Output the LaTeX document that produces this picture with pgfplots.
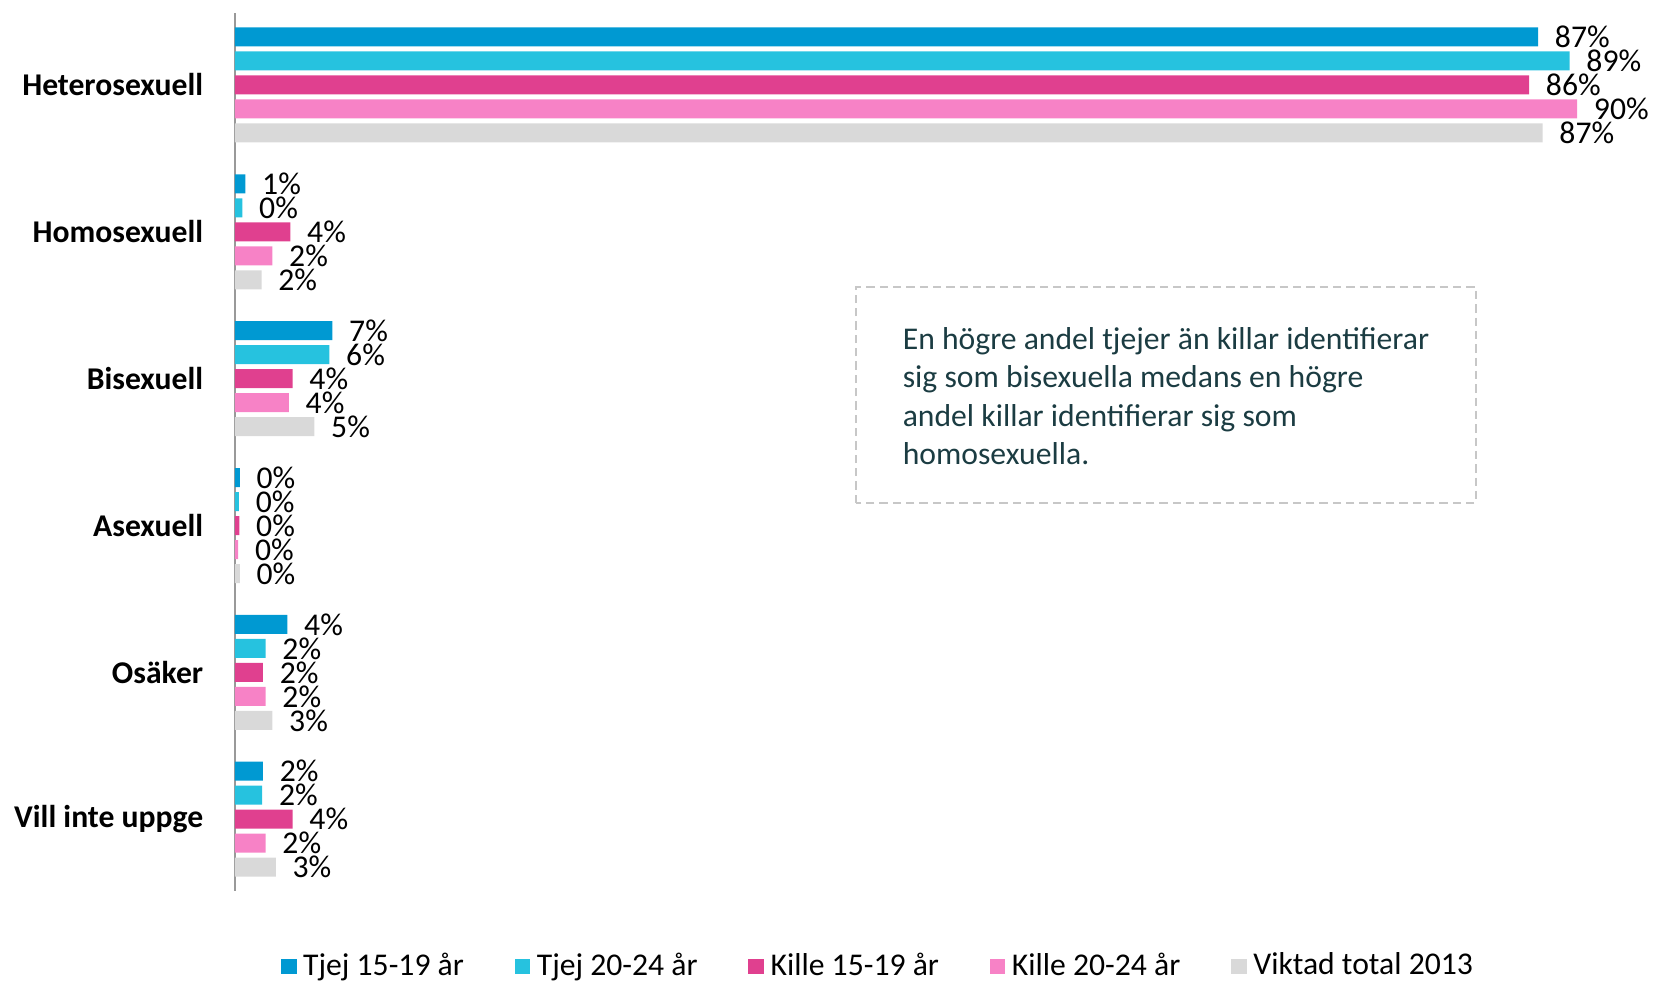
\documentclass[border=0pt]{standalone}
\usepackage{pgfplots}
\pgfplotsset{compat=1.18}
\usepackage{pgfplotstable}
\usepackage{fontspec}
\setmainfont{Carlito}
\definecolor{c1}{RGB}{0,153,210}
\definecolor{c2}{RGB}{38,194,223}
\definecolor{c3}{RGB}{224,64,143}
\definecolor{c4}{RGB}{247,130,198}
\definecolor{c5}{RGB}{217,217,217}
\definecolor{txt}{RGB}{27,60,66}
\newcommand{\lblfont}{\fontsize{9.5}{11.5}\selectfont}

\pgfplotstableread{
y x lab
0 86.9 87\%
1 0.7 1\%
2 6.5 7\%
3 0.33 0\%
4 3.5 4\%
5 1.87 2\%
}\tA
\pgfplotstableread{
y x lab
0 89.0 89\%
1 0.5 0\%
2 6.3 6\%
3 0.27 0\%
4 2.05 2\%
5 1.82 2\%
}\tB
\pgfplotstableread{
y x lab
0 86.3 86\%
1 3.7 4\%
2 3.85 4\%
3 0.3 0\%
4 1.87 2\%
5 3.85 4\%
}\tC
\pgfplotstableread{
y x lab
0 89.5 90\%
1 2.5 2\%
2 3.6 4\%
3 0.22 0\%
4 2.05 2\%
5 2.05 2\%
}\tD
\pgfplotstableread{
y x lab
0 87.2 87\%
1 1.78 2\%
2 5.3 5\%
3 0.33 0\%
4 2.5 3\%
5 2.73 3\%
}\tE

\begin{document}
\begin{tikzpicture}
\begin{axis}[
  at={(0,0)}, anchor=south west, scale only axis,
  width=414pt, height=263.5pt,
  xbar, bar width=5.7pt,
  xmin=0, xmax=92, ymin=-0.49, ymax=5.49, y dir=reverse,
  axis y line*=left, axis x line=none,
  y axis line style={draw=black!40, line width=0.8pt},
  ytick={0,1,2,3,4,5},
  yticklabels={Heterosexuell,Homosexuell,Bisexuell,Asexuell,Osäker,Vill inte uppge},
  major tick length=0pt,
  yticklabel style={font=\bfseries\lblfont, xshift=-6pt},
  nodes near coords, point meta=explicit symbolic,
  every node near coord/.append style={font=\lblfont, anchor=west, xshift=1.5pt, text=black},
  clip=false,
  legend columns=5,
  legend style={at={(0.467,0)}, anchor=center, xshift=0.3pt, yshift=-22.6pt, draw=none,
    font=\lblfont, /tikz/every even column/.append style={column sep=13.2pt}},
  legend image code/.code={\fill[#1,draw=none] (0pt,-2.35pt) rectangle (4.7pt,2.35pt);},
]
\addplot[fill=c1, draw=none, bar shift=14.4pt] table[x=x,y=y,meta=lab]{\tA};
\addplot[fill=c2, draw=none, bar shift=7.2pt] table[x=x,y=y,meta=lab]{\tB};
\addplot[fill=c3, draw=none, bar shift=0pt] table[x=x,y=y,meta=lab]{\tC};
\addplot[fill=c4, draw=none, bar shift=-7.2pt] table[x=x,y=y,meta=lab]{\tD};
\addplot[fill=c5, draw=none, bar shift=-14.4pt] table[x=x,y=y,meta=lab]{\tE};
\legend{Tjej 15-19 år, Tjej 20-24 år, Kille 15-19 år, Kille 20-24 år, Viktad total 2013}
\end{axis}
\draw[black!22, dashed, line width=0.6pt, dash pattern=on 2.5pt off 1.5pt] (186.3pt,116.5pt) rectangle (372.3pt,181.3pt);
\begin{scope}[every node/.style={anchor=base west, inner sep=0pt, font=\lblfont, text=txt}]
\node at (200.2pt,162.6pt) {En högre andel tjejer än killar identifierar};
\node at (200.2pt,151.2pt) {sig som bisexuella medans en högre};
\node at (200.2pt,139.5pt) {andel killar identifierar sig som};
\node at (200.2pt,128.1pt) {homosexuella.};
\end{scope}
\pgfresetboundingbox
\useasboundingbox (-70.5pt,-27.6pt) rectangle (425.5pt,267.4pt);
\end{tikzpicture}
\end{document}
